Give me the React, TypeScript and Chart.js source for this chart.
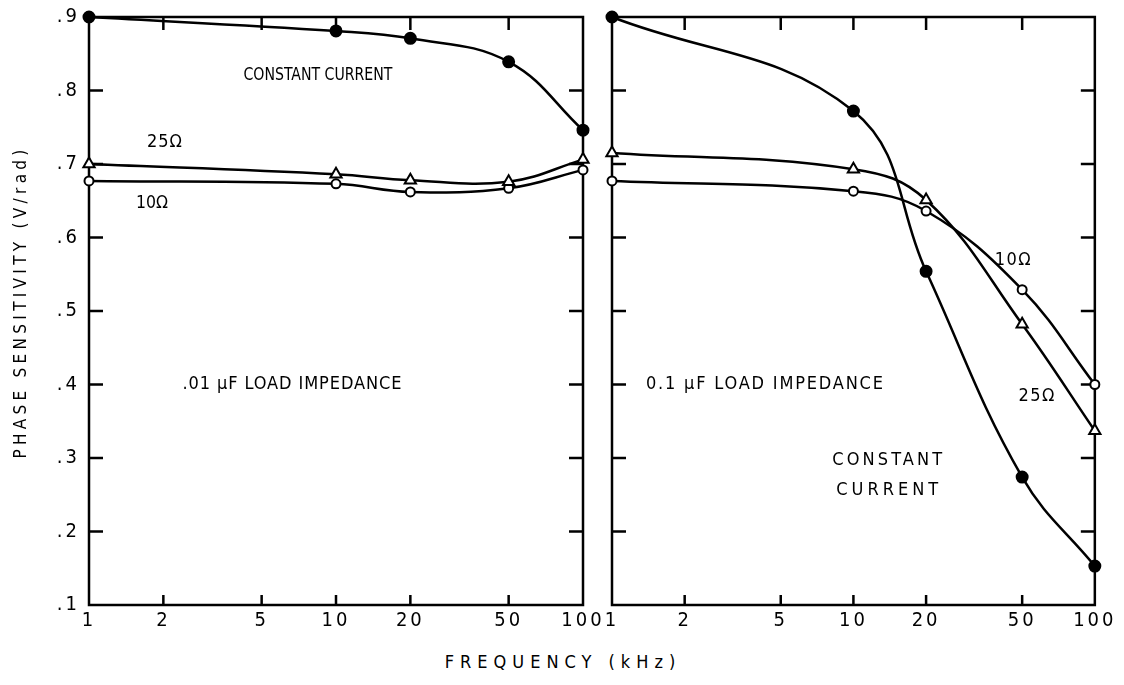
import React, { useEffect, useRef } from "react";
import { Chart, registerables } from "chart.js";
Chart.register(...registerables);

// ---- axes ----
const freqTicks = [1, 2, 5, 10, 20, 50, 100];
const yTicks = [0.1, 0.2, 0.3, 0.4, 0.5, 0.6, 0.7, 0.8, 0.9];
const innerFreqTicks = [2, 5, 10, 20, 50];
const innerYTicks = [0.2, 0.3, 0.4, 0.5, 0.6, 0.7, 0.8];

// ---- left panel: .01 uF load impedance ----
const leftFreq = [1, 10, 20, 50, 100];
const leftConstCurrent = [0.9, 0.881, 0.871, 0.839, 0.746];
const left25 = [0.7, 0.686, 0.678, 0.676, 0.706];
const left10 = [0.677, 0.673, 0.662, 0.667, 0.692];

// ---- right panel: 0.1 uF load impedance ----
const rightFreq = [1, 10, 20, 50, 100];
const rightConstCurrent = [0.9, 0.772, 0.554, 0.274, 0.153];
const right25 = [0.715, 0.693, 0.651, 0.482, 0.337];
const right10 = [0.677, 0.663, 0.636, 0.529, 0.4];

// ---- in-plot labels (anchored at data coordinates, w = printed width) ----
const leftNotes = [
  { text: "CONSTANT CURRENT", x: 8.45, y: 0.82, w: 149 },
  { text: "25Ω", x: 2.02, y: 0.729, w: 35 },
  { text: "10Ω", x: 1.8, y: 0.647, w: 32 },
  { text: ".01 μF LOAD IMPEDANCE", x: 6.63, y: 0.4, w: 219 },
];
const rightNotes = [
  { text: "0.1 μF LOAD IMPEDANCE", x: 4.28, y: 0.4, w: 237 },
  { text: "CONSTANT", x: 13.8, y: 0.297, w: 110 },
  { text: "CURRENT", x: 13.8, y: 0.256, w: 102 },
  { text: "10Ω", x: 45.7, y: 0.569, w: 36 },
  { text: "25Ω", x: 57.3, y: 0.384, w: 36 },
];

const FONT = '"DejaVu Sans Condensed", "Liberation Sans Narrow", "DejaVu Sans", sans-serif';

const pts = (xs: number[], ys: number[]) => xs.map((x, i) => ({ x, y: ys[i] }));

function makeDatasets(xs: number[], cc: number[], r25: number[], r10: number[]) {
  const base = {
    borderColor: "#000",
    borderWidth: 2.5,
    tension: 0.4,
    clip: false as any,
    pointBorderColor: "#000",
    pointBorderWidth: 2,
  };
  return [
    {
      ...base,
      label: "Constant current",
      data: pts(xs, cc),
      pointStyle: "circle",
      pointRadius: 5.5,
      pointBackgroundColor: "#000",
    },
    {
      ...base,
      label: "25Ω",
      data: pts(xs, r25),
      pointStyle: "triangle",
      pointRadius: 6.5,
      pointBackgroundColor: "#fff",
    },
    {
      ...base,
      label: "10Ω",
      data: pts(xs, r10),
      pointStyle: "circle",
      pointRadius: 4.5,
      pointBackgroundColor: "#fff",
    },
  ];
}

function makePlugin(notes: { text: string; x: number; y: number; w: number }[]) {
  return {
    id: "frameAndNotes",
    beforeDraw(chart: any) {
      chart.ctx.letterSpacing = "3px";
    },
    beforeDatasetsDraw(chart: any) {
      const { ctx, chartArea: a, scales } = chart;
      const xs = scales.x;
      const ys = scales.y;
      ctx.save();
      ctx.strokeStyle = "#000";
      ctx.lineWidth = 2.5;
      ctx.strokeRect(a.left, a.top, a.right - a.left, a.bottom - a.top);
      ctx.beginPath();
      innerFreqTicks.forEach((v) => {
        const px = xs.getPixelForValue(v);
        ctx.moveTo(px, a.bottom);
        ctx.lineTo(px, a.bottom - 10);
        ctx.moveTo(px, a.top);
        ctx.lineTo(px, a.top + 13);
      });
      innerYTicks.forEach((v) => {
        const py = ys.getPixelForValue(v);
        ctx.moveTo(a.left, py);
        ctx.lineTo(a.left + 14, py);
        ctx.moveTo(a.right, py);
        ctx.lineTo(a.right - 14, py);
      });
      ctx.stroke();
      ctx.restore();
    },
    afterDatasetsDraw(chart: any) {
      const { ctx, scales } = chart;
      ctx.save();
      ctx.fillStyle = "#000";
      ctx.font = `18px ${FONT}`;
      ctx.textAlign = "left";
      ctx.textBaseline = "middle";
      notes.forEach((n) => {
        const cx = scales.x.getPixelForValue(n.x);
        const cy = scales.y.getPixelForValue(n.y);
        ctx.letterSpacing = "0px";
        const m = ctx.measureText(n.text).width;
        ctx.save();
        ctx.translate(cx - n.w / 2, cy);
        if (m >= n.w) {
          ctx.scale(n.w / m, 1);
        } else {
          const chars = Array.from(n.text).length;
          ctx.letterSpacing = `${(n.w - m) / Math.max(1, chars - 1)}px`;
        }
        ctx.fillText(n.text, 0, 0);
        ctx.restore();
      });
      ctx.restore();
    },
  };
}

function makeConfig(
  datasets: any[],
  notes: any[],
  padding: { top: number; right: number; bottom: number; left: number },
  showY: boolean
): any {
  return {
    type: "line",
    data: { datasets },
    options: {
      animation: false,
      responsive: false,
      maintainAspectRatio: false,
      events: [],
      layout: { padding },
      plugins: { legend: { display: false }, tooltip: { enabled: false } },
      scales: {
        x: {
          type: "logarithmic",
          min: 1,
          max: 100,
          afterBuildTicks: (s: any) => {
            s.ticks = freqTicks.map((v) => ({ value: v }));
          },
          afterFit: (s: any) => {
            s.height = 33;
          },
          grid: { display: false, drawTicks: false },
          border: { display: false },
          ticks: {
            autoSkip: false,
            maxRotation: 0,
            padding: 4,
            color: "#000",
            font: { family: FONT, size: 20 },
            callback: (v: any) => String(v),
          },
        },
        y: {
          display: showY,
          min: 0.1,
          max: 0.9,
          afterBuildTicks: (s: any) => {
            s.ticks = yTicks.map((v) => ({ value: v }));
          },
          afterFit: (s: any) => {
            s.width = showY ? 81 : 0;
          },
          grid: { display: false, drawTicks: false },
          border: { display: false },
          ticks: {
            padding: 9,
            color: "#000",
            font: { family: FONT, size: 20 },
            callback: (v: any) => "." + Math.round(Number(v) * 10),
          },
        },
      },
    },
    plugins: [makePlugin(notes)],
  };
}

function Panel(props: { cfg: any; left: number; width: number; height: number; top: number }) {
  const ref = useRef<HTMLCanvasElement | null>(null);
  useEffect(() => {
    if (!ref.current) return;
    const chart = new Chart(ref.current, props.cfg);
    return () => chart.destroy();
  }, []);
  return (
    <canvas
      ref={ref}
      width={props.width}
      height={props.height}
      style={{ position: "absolute", left: props.left, top: props.top, width: props.width, height: props.height }}
    />
  );
}

export default function App() {
  const leftCfg = makeConfig(
    makeDatasets(leftFreq, leftConstCurrent, left25, left10),
    leftNotes,
    { top: 26, right: 35, bottom: 0, left: 0 },
    true
  );
  const rightCfg = makeConfig(
    makeDatasets(rightFreq, rightConstCurrent, right25, right10),
    rightNotes,
    { top: 26, right: 16, bottom: 0, left: 64 },
    false
  );
  return (
    <div style={{ position: "relative", width: 1108, height: 669, background: "#fff" }}>
      <Panel cfg={leftCfg} left={0} top={-17} width={610} height={647} />
      <Panel cfg={rightCfg} left={540} top={-17} width={568} height={647} />
      <div
        style={{
          position: "absolute",
          left: 12 - 200,
          top: 294 - 10,
          width: 400,
          height: 20,
          lineHeight: "20px",
          textAlign: "center",
          transform: "rotate(-90deg)",
          transformOrigin: "50% 50%",
          whiteSpace: "nowrap",
          fontFamily: FONT,
          fontSize: 17,
          letterSpacing: "4.3px",
          color: "#000",
        }}
      >
        PHASE SENSITIVITY (V/rad)
      </div>
      <div
        style={{
          position: "absolute",
          left: 555 - 200,
          top: 654 - 10,
          width: 400,
          height: 20,
          lineHeight: "20px",
          textAlign: "center",
          whiteSpace: "nowrap",
          fontFamily: FONT,
          fontSize: 18,
          letterSpacing: "6px",
          color: "#000",
        }}
      >
        FREQUENCY (kHz)
      </div>
    </div>
  );
}
